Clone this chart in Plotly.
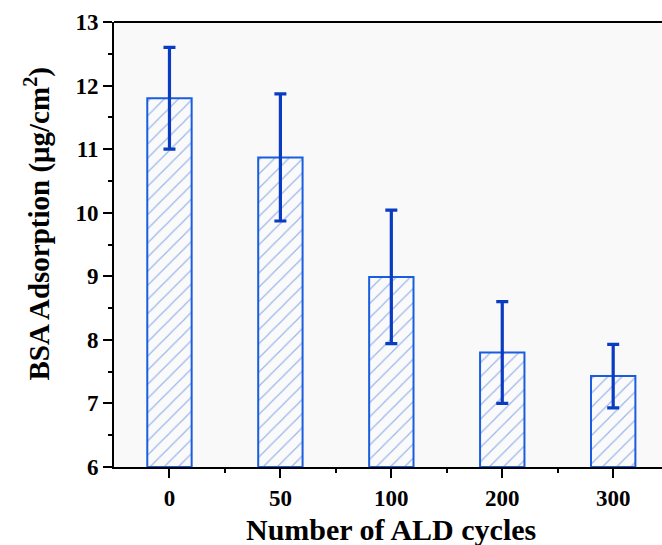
import plotly.graph_objects as go

categories = ["0", "50", "100", "200", "300"]
values = [11.80, 10.87, 8.99, 7.80, 7.43]
errors = [0.80, 1.00, 1.05, 0.80, 0.50]
y_ticks = [6, 7, 8, 9, 10, 11, 12, 13]
base_value = 6

xpos = list(range(len(categories)))
font = "Liberation Serif"
bar_blue = "#1a5ee0"
err_blue = "#0a3cc2"

fig = go.Figure()
fig.add_trace(go.Bar(
    x=xpos, y=[v - base_value for v in values], base=base_value, width=0.4,
    marker=dict(color="rgba(0,0,0,0)",
                line=dict(color=bar_blue, width=2),
                pattern=dict(shape="/", fgcolor="#3a72e0", bgcolor="#fafafa", size=10, solidity=0.12)),
    error_y=dict(type="data", array=errors, visible=True, color=err_blue, thickness=3.2, width=6),
))

fig.update_layout(
    width=662, height=545,
    margin=dict(l=114, r=0, t=22, b=78),
    paper_bgcolor="white", plot_bgcolor="#f9f9f9",
    showlegend=False,
    font=dict(family=font, color="black"),
    xaxis=dict(range=[-0.5, 4.44], tickmode="array", tickvals=xpos, ticktext=categories,
               showline=True, linecolor="black", linewidth=2, mirror=False,
               ticks="outside", ticklen=9, tickwidth=2, tickcolor="black",
               minor=dict(tickvals=[0.5, 1.5, 2.5, 3.5], ticks="outside", ticklen=4, tickwidth=2, tickcolor="black"),
               showgrid=False, zeroline=False, automargin=False,
               tickfont=dict(family=font, size=23, color="black", weight="bold")),
    yaxis=dict(range=[6, 13], tickmode="array", tickvals=y_ticks,
               showline=True, linecolor="black", linewidth=2,
               ticks="outside", ticklen=9, tickwidth=2, tickcolor="black",
               minor=dict(dtick=0.5, tick0=6, ticks="outside", ticklen=4, tickwidth=2, tickcolor="black"),
               showgrid=False, zeroline=False, automargin=False,
               tickfont=dict(family=font, size=23, color="black", weight="bold")),
    annotations=[
        dict(text="<b>BSA Adsorption (μg/cm<sup>2</sup>)</b>", textangle=-90,
             xref="paper", yref="paper", x=0, y=0.545, xshift=-77,
             xanchor="center", yanchor="middle", showarrow=False,
             font=dict(family=font, size=29, color="black")),
        dict(text="<b>Number of ALD cycles</b>",
             xref="paper", yref="paper", x=0.5, y=0, xshift=3, yshift=-62,
             xanchor="center", yanchor="middle", showarrow=False,
             font=dict(family=font, size=30, color="black")),
    ],
    shapes=[dict(type="line", xref="paper", yref="paper", x0=0, x1=1, y0=1, y1=1,
                 line=dict(color="black", width=2))],
)
fig.write_html("out.html")
